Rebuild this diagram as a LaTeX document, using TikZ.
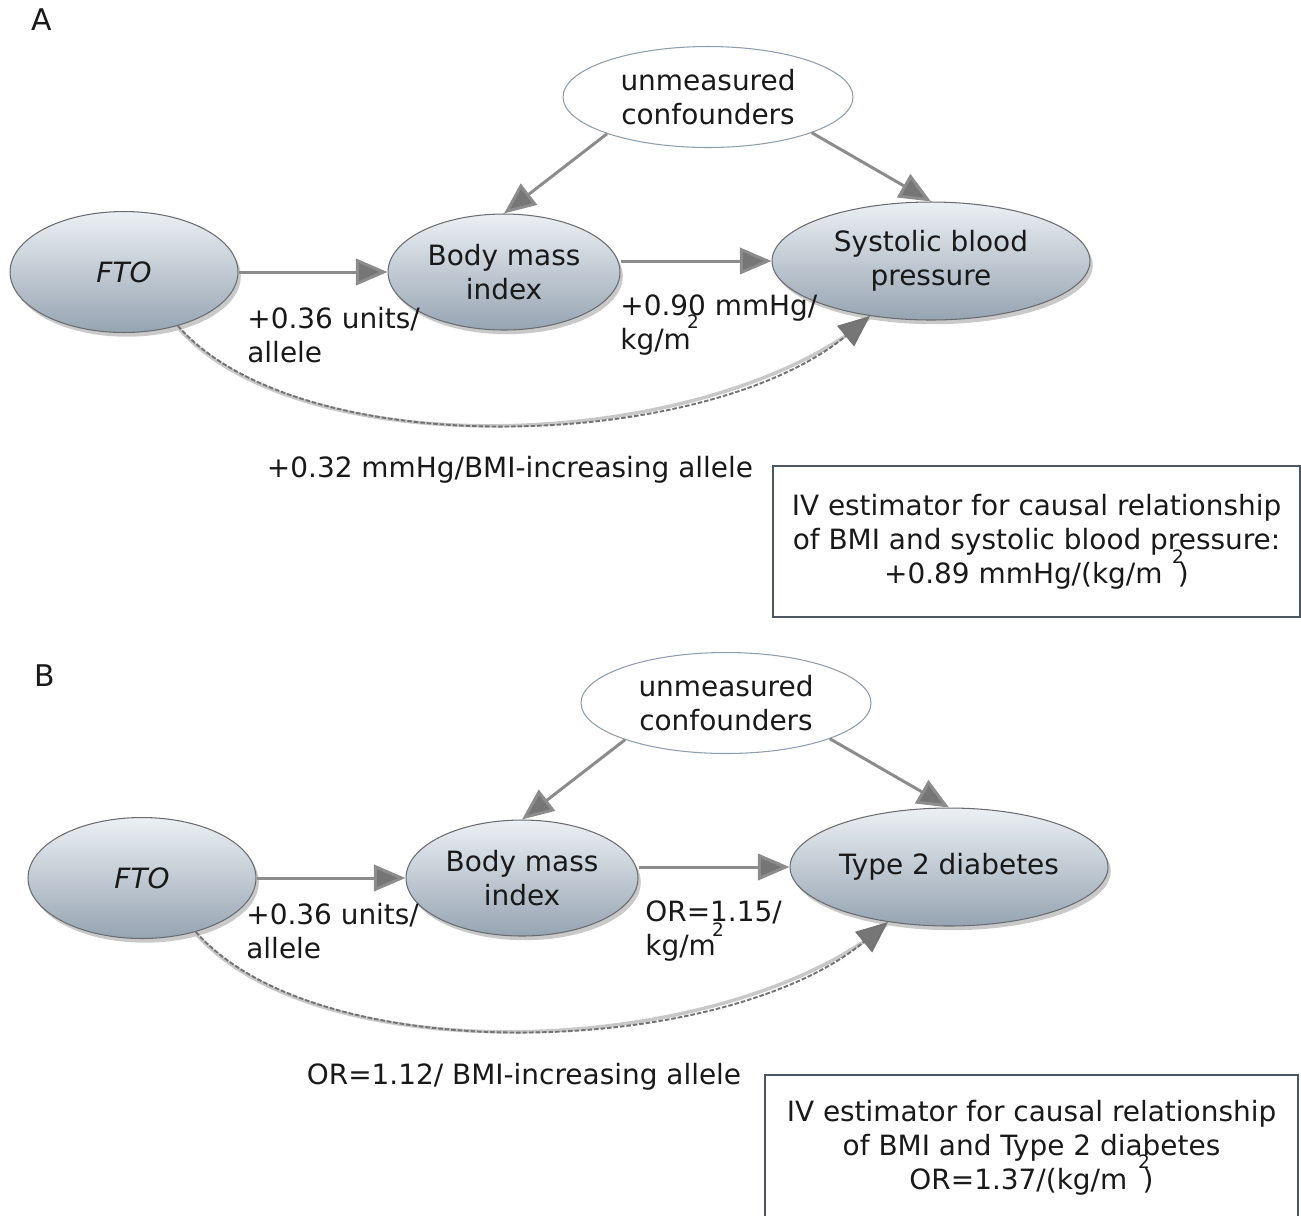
\documentclass[tikz,border=0pt]{standalone}
\usepackage{fontspec}
\setmainfont{DejaVu Sans}
\usetikzlibrary{shapes.geometric,arrows.meta,shadows}
\definecolor{elltop}{RGB}{236,240,244}
\definecolor{ellbot}{RGB}{150,164,178}
\definecolor{ellborder}{RGB}{105,108,112}
\definecolor{confborder}{RGB}{140,158,176}
\definecolor{arrline}{RGB}{140,140,140}
\definecolor{arrtip}{RGB}{118,118,118}
\definecolor{dashdark}{RGB}{115,115,115}
\definecolor{dashlight}{RGB}{200,200,200}
\definecolor{boxborder}{RGB}{75,88,100}
\definecolor{txt}{RGB}{25,25,25}
\tikzset{
  every node/.style={text=txt, font=\fontsize{15.9}{19.3}\selectfont, inner sep=0pt},
  ell/.style={ellipse, draw=ellborder, line width=0.6pt, top color=elltop, bottom color=ellbot,
    drop shadow={shadow xshift=1.6pt, shadow yshift=-2.4pt, opacity=0.3, fill=black!70},
    align=center},
  confell/.style={ellipse, draw=confborder, line width=0.6pt, fill=white, align=center},
  conn/.style={draw=arrline, line width=1.7pt, -{Triangle[length=18pt,width=15pt,fill=arrtip]}},
  dconn/.style={draw=dashdark, line width=1.1pt, dash pattern=on 2.6pt off 1.1pt,
    preaction={draw=dashlight, line width=2pt, arrows=-, solid, transform canvas={yshift=-0.9pt}},
    -{Triangle[length=18pt,width=15pt,fill=arrtip]}},
  lab/.style={align=left, anchor=west},
  sq/.style={font=\fontsize{10.5}{12}\selectfont},
  ivbox/.style={rectangle, draw=boxborder, line width=1pt, align=center},
  panel/.style={font=\fontsize{17}{20}\selectfont}
}
\begin{document}
\begin{tikzpicture}[x=0.02cm, y=-0.02cm]
\useasboundingbox (0,0) rectangle (1301,1215);
% ---------------- Panel A ----------------
\node[panel] (pA) at (42,20) {A};
\node[confell, minimum width=5.8cm, minimum height=2.02cm] (confA) at (708,97) {unmeasured\\confounders};
\node[ell, minimum width=4.56cm, minimum height=2.42cm] (ftoA) at (124,272) {\itshape FTO};
\node[ell, minimum width=4.64cm, minimum height=2.32cm] (bmiA) at (504,272) {Body mass\\index};
\node[ell, minimum width=6.36cm, minimum height=2.36cm] (sbpA) at (931,261) {Systolic blood\\pressure};
\draw[conn] (ftoA.east) -- (bmiA.west);
\draw[conn] (bmiA.east |- sbpA.west) -- (sbpA.west);
\draw[conn] (confA.200) -- (bmiA.north);
\draw[conn] (confA.341) -- (sbpA.north);
\draw[dconn] (ftoA.315) .. controls +(123,140) and +(-163,135) .. (sbpA.222);
\node[lab] (lA1) at (247,335) {+0.36 units/\\allele};
\node[lab] (lA2) at (620,325) {+0.90 mmHg/\\kg/m};
\node[sq] (sA1) at (693,322) {2};
\node (lA3) at (510,470) {+0.32 mmHg/BMI-increasing allele};
\node[ivbox, minimum width=10.54cm, minimum height=3.02cm] (boxA) at (1036.5,541.5)
  {IV estimator for causal relationship\\of BMI and systolic blood pressure:\\+0.89 mmHg/(kg/m\hspace{0.55em})};
\node[sq] (sA2) at (1178,557) {2};
% ---------------- Panel B ----------------
\node[panel] (pB) at (45,676) {B};
\node[confell, minimum width=5.8cm, minimum height=2.02cm] (confB) at (726,703) {unmeasured\\confounders};
\node[ell, minimum width=4.56cm, minimum height=2.42cm] (ftoB) at (142,878) {\itshape FTO};
\node[ell, minimum width=4.64cm, minimum height=2.32cm] (bmiB) at (522,878) {Body mass\\index};
\node[ell, minimum width=6.36cm, minimum height=2.36cm] (t2dB) at (949,867) {Type 2 diabetes};
\draw[conn] (ftoB.east) -- (bmiB.west);
\draw[conn] (bmiB.east |- t2dB.west) -- (t2dB.west);
\draw[conn] (confB.200) -- (bmiB.north);
\draw[conn] (confB.341) -- (t2dB.north);
\draw[dconn] (ftoB.315) .. controls +(123,140) and +(-163,135) .. (t2dB.222);
\node[lab] (lB1) at (246,931) {+0.36 units/\\allele};
\node[lab] (lB2) at (645,931) {OR=1.15/\\kg/m};
\node[sq] (sB1) at (718,930) {2};
\node (lB3) at (524,1077) {OR=1.12/ BMI-increasing allele};
\node[ivbox, minimum width=10.66cm, minimum height=2.92cm] (boxB) at (1031.5,1148)
  {IV estimator for causal relationship\\of BMI and Type 2 diabetes\\OR=1.37/(kg/m\hspace{0.55em})};
\node[sq] (sB2) at (1144,1162) {2};
\end{tikzpicture}
\end{document}
